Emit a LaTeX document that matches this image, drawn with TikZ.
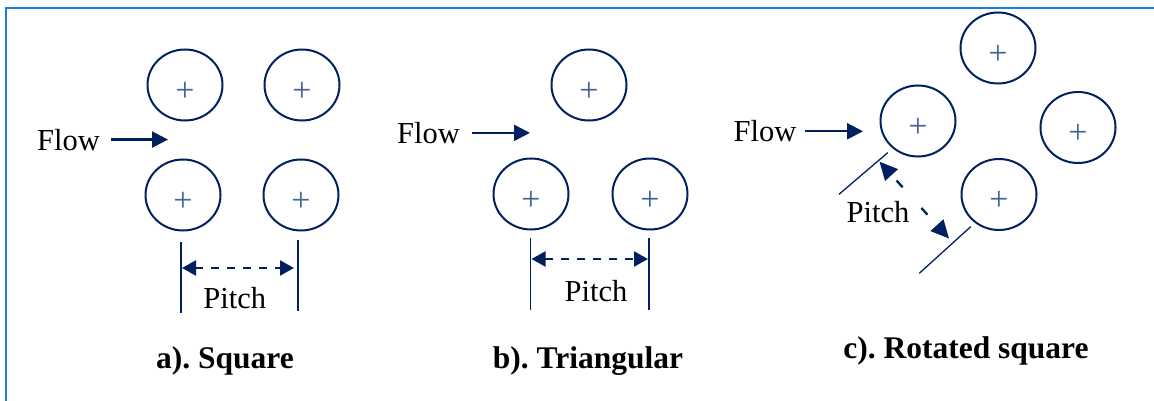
\documentclass[tikz,border=0pt]{standalone}
\usepackage{fontspec}
\setmainfont{Liberation Serif}
\frenchspacing
\usetikzlibrary{shapes.geometric,arrows.meta}
\usetikzlibrary{positioning}
\definecolor{navy}{RGB}{0,32,96}
\definecolor{crossblue}{RGB}{68,100,150}
\definecolor{frameblue}{RGB}{30,125,215}
\tikzstyle{tube} = [ellipse, draw=navy, line width=2pt,
    minimum width=75pt, minimum height=71pt, inner sep=0pt,
    label={[text=crossblue, font=\fontsize{34}{34}\selectfont, yshift=-6.5pt]center:+}]
\tikzstyle{word} = [font=\fontsize{30.5}{36}\selectfont, inner sep=0pt, anchor=base]
\tikzstyle{panelname} = [font=\bfseries\fontsize{31.5}{38}\selectfont, inner sep=0pt, anchor=base]
\tikzstyle{flowline} = [draw=navy, line width=2.4pt, -{Triangle[length=16pt,width=16pt]}]
\tikzstyle{pitchline} = [draw=navy, line width=2.3pt, dash pattern=on 8pt off 8pt,
    {Triangle[length=14pt,width=15pt]}-{Triangle[length=14pt,width=15pt]}]
\tikzstyle{guide} = [draw=navy, line width=1.3pt]
\tikzstyle{boxline} = [draw=frameblue, line width=2.8pt]
\begin{document}
\begin{tikzpicture}[x=1pt, y=-1pt]
  \useasboundingbox (0,0) rectangle (1154,401);
  \path [boxline] (6,401) -- (6,8) -- (1154,8);

  % a). square pitch
  \node [tube] (a1) at (185,85) {};
  \node [tube, right of=a1, node distance=117pt] (a2) {};
  \node [tube] (a3) at (183,195) {};
  \node [tube, right of=a3, node distance=118pt] (a4) {};
  \node [word] (flowa) at (68.5,150) {Flow};
  \coordinate (fa) at (168,139);
  \path [flowline] ([xshift=11pt]flowa.east) -- (flowa.east -| fa);
  \coordinate (ga1) at (181,242);
  \coordinate (ga2) at (181,313);
  \coordinate (ga3) at (298,240);
  \coordinate (ga4) at (298,311);
  \path [guide] (ga1) -- (ga2);
  \path [guide] (ga3) -- (ga4);
  \coordinate (pa1) at (182,268);
  \coordinate (pa2) at (294,268);
  \path [pitchline] (pa1) -- (pa2);
  \node [word] (pitcha) at (234.7,308.3) {Pitch};
  \node [panelname] (capa) at (225,368.3) {a). Square};

  % b). triangular pitch
  \node [tube] (b1) at (589,85) {};
  \node [tube] (b2) at (531,194) {};
  \node [tube, right of=b2, node distance=119pt] (b3) {};
  \node [word] (flowb) at (428.5,143.3) {Flow};
  \coordinate (fb) at (530,132);
  \path [flowline] ([xshift=12pt]flowb.east) -- (flowb.east -| fb);
  \coordinate (gb1) at (530.7,238);
  \coordinate (gb2) at (530.7,310);
  \coordinate (gb3) at (649,238);
  \coordinate (gb4) at (649,310);
  \path [guide] (gb1) -- (gb2);
  \path [guide] (gb3) -- (gb4);
  \coordinate (pb1) at (531.5,259);
  \coordinate (pb2) at (648,259);
  \path [pitchline] (pb1) -- (pb2);
  \node [word] (pitchb) at (596,301.7) {Pitch};
  \node [panelname] (capb) at (588,368.3) {b). Triangular};

  % c). rotated square pitch
  \node [tube] (c1) at (998,48) {};
  \node [tube] (c2) at (918,121) {};
  \node [tube] (c3) at (1078,127.5) {};
  \node [tube] (c4) at (999,194.5) {};
  \node [word] (flowc) at (765,141.7) {Flow};
  \coordinate (fc) at (863,130);
  \path [flowline] ([xshift=8pt]flowc.east) -- (flowc.east -| fc);
  \coordinate (gc1) at (887.7,152.7);
  \coordinate (gc2) at (839,194.3);
  \coordinate (gc3) at (970.7,226.7);
  \coordinate (gc4) at (919.3,273.3);
  \path [guide] (gc1) -- (gc2);
  \path [guide] (gc3) -- (gc4);
  \coordinate (pc1) at (879.5,161.7);
  \coordinate (pc2) at (949,238.5);
  \path [pitchline, dash pattern=on 9pt off 28pt, dash phase=29pt,
    {Triangle[length=18pt,width=17pt]}-{Triangle[length=18pt,width=17pt]}] (pc1) -- (pc2);
  \node [word] (pitchc) at (878,222.7) {Pitch};
  \node [panelname] (capc) at (966,358.3) {c). Rotated square};
\end{tikzpicture}
\end{document}
